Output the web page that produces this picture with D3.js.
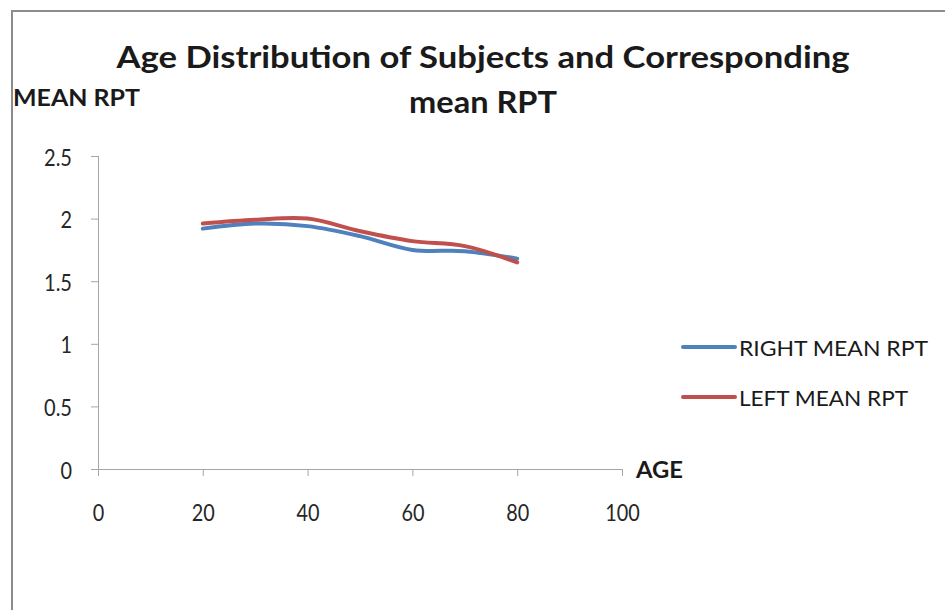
<!DOCTYPE html>
<html>
<head>
<meta charset="utf-8">
<script src="https://cdn.jsdelivr.net/npm/d3@7"></script>
<style>
  body { margin: 0; background: #fff; }
  text { font-family: Lato, "Open Sans", sans-serif; }
</style>
</head>
<body>
<div id="chart"></div>
<script>
var width = 945;
var height = 610;

// data
var ages = [20, 30, 40, 50, 60, 70, 80];
var rightMean = [1.92, 1.96, 1.94, 1.86, 1.75, 1.74, 1.68];
var leftMean = [1.96, 1.99, 2.0, 1.90, 1.82, 1.78, 1.65];
var seriesNames = ["RIGHT MEAN RPT", "LEFT MEAN RPT"];
var seriesColors = ["#4f81bd", "#c0504d"];
var xTicks = [0, 20, 40, 60, 80, 100];
var yTicks = [0, 0.5, 1, 1.5, 2, 2.5];

var svg = d3.select("#chart").append("svg")
  .attr("width", width)
  .attr("height", height);

// outer chart frame (only top/left visible)
svg.append("path")
  .attr("d", "M12,610 L12,11 L945,11")
  .style("fill", "none")
  .style("stroke", "#8c8c8c")
  .style("stroke-width", 2);

var x = d3.scaleLinear().domain([0, 100]).range([98, 622]);
var y = d3.scaleLinear().domain([0, 2.5]).range([469, 156]);

// squeeze a text to the width it has in the picture
function fit(sel, w) {
  sel.attr("textLength", w).attr("lengthAdjust", "spacingAndGlyphs");
  return sel;
}
// narrow digits like the original font
function numWidth(s) {
  return s.split("").reduce(function(t, c) { return t + (c === "." ? 5 : 11.5); }, 0);
}

// title
fit(svg.append("text")
  .attr("x", 483).attr("y", 68)
  .attr("text-anchor", "middle")
  .style("font-size", "31px").style("font-weight", "bold").style("fill", "#1a1a1a")
  .text("Age Distribution of Subjects and Corresponding"), 733);
fit(svg.append("text")
  .attr("x", 483).attr("y", 113)
  .attr("text-anchor", "middle")
  .style("font-size", "31px").style("font-weight", "bold").style("fill", "#1a1a1a")
  .text("mean RPT"), 148);

// axis titles
fit(svg.append("text")
  .attr("x", 13).attr("y", 106)
  .style("font-size", "22px").style("font-weight", "bold").style("fill", "#1a1a1a")
  .text("MEAN RPT"), 127);
fit(svg.append("text")
  .attr("x", 636).attr("y", 478)
  .style("font-size", "22px").style("font-weight", "bold").style("fill", "#1a1a1a")
  .text("AGE"), 47);

// axes
var xAxis = svg.append("g")
  .attr("transform", "translate(0," + y(0) + ")")
  .call(d3.axisBottom(x).tickValues(xTicks).tickSize(7).tickSizeOuter(0));
var yAxis = svg.append("g")
  .attr("transform", "translate(" + x(0) + ",0)")
  .call(d3.axisLeft(y).tickValues(yTicks).tickSize(7).tickSizeOuter(0)
    .tickFormat(function(d) { return d; }));

[xAxis, yAxis].forEach(function(g) {
  g.select(".domain").style("stroke", "#a6a6a6").style("stroke-width", 1);
  g.selectAll(".tick line").style("stroke", "#a6a6a6");
  g.selectAll(".tick text")
    .style("font-size", "23px").style("fill", "#262626")
    .style("font-family", "Lato, 'Open Sans', sans-serif")
    .attr("dy", null)
    .each(function() {
      var t = d3.select(this);
      fit(t, numWidth(t.text()));
    });
});
xAxis.selectAll(".tick text").attr("y", 52);
yAxis.selectAll(".tick text").attr("x", -26).attr("y", 9);
// x axis line reaches left past the y axis
xAxis.select(".domain").attr("d", "M91,0.5H" + x(100));
yAxis.select(".domain").attr("d", "M0.5," + y(2.5) + "V" + y(0));
yAxis.select(".tick").filter(function(d) { return d === 0; }).select("line").remove();

// lines
var line = d3.line()
  .x(function(d) { return x(d[0]); })
  .y(function(d) { return y(d[1]); })
  .curve(d3.curveCatmullRom.alpha(0.5));

var series = [rightMean, leftMean];
series.forEach(function(vals, i) {
  svg.append("path")
    .attr("d", line(ages.map(function(a, j) { return [a, vals[j]]; })))
    .style("fill", "none")
    .style("stroke", seriesColors[i])
    .style("stroke-width", 4)
    .style("stroke-linecap", "round");
});

// legend
var legendWidths = [189, 169];
var legend = svg.append("g");
seriesNames.forEach(function(name, i) {
  var ly = 347 + i * 50;
  legend.append("line")
    .attr("x1", 683).attr("x2", 735).attr("y1", ly).attr("y2", ly)
    .style("stroke", seriesColors[i]).style("stroke-width", 4)
    .style("stroke-linecap", "round");
  fit(legend.append("text")
    .attr("x", 739).attr("y", ly + 9)
    .style("font-size", "22px").style("fill", "#1a1a1a")
    .text(name), legendWidths[i]);
});
</script>
</body>
</html>
